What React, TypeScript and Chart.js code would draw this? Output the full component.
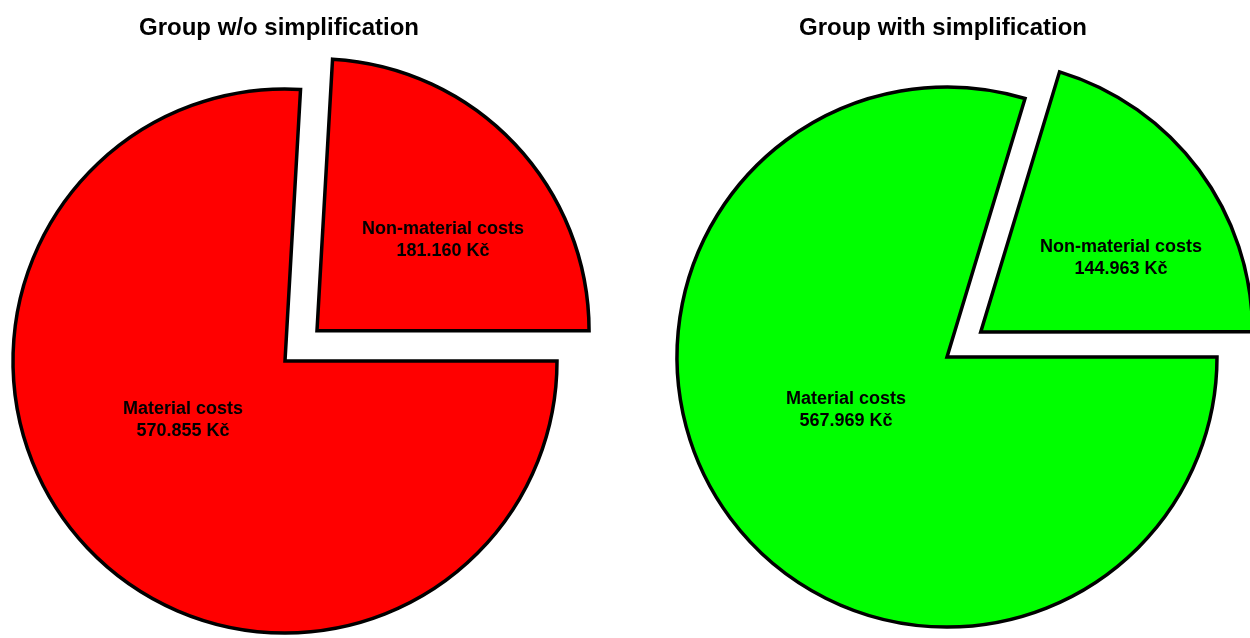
import React, { useEffect, useRef } from "react";
import { Chart, registerables } from "chart.js";

Chart.register(...registerables);

// ---- data ----
const categories = ["Material costs", "Non-material costs"];
const valuesWithout = [570855, 181160];
const valuesWith = [567969, 144963];
const titles = ["Group w/o simplification", "Group with simplification"];
const colorsWithout = ["#FF0000", "#FF0000"];
const colorsWith = ["#00FF00", "#00FF00"];

const fmt = (v: number) =>
  v.toString().replace(/\B(?=(\d{3})+(?!\d))/g, ".") + " Kč";

type PieProps = {
  values: number[];
  colors: string[];
  title: string;
  padding: { left: number; right: number; top: number; bottom: number };
  radius: number;
  explode: number;
  titleDx: number;
  labelOffsets: [number, number][];
};

function PieChart(props: PieProps) {
  const ref = useRef<HTMLCanvasElement | null>(null);
  useEffect(() => {
    if (!ref.current) return;
    const labelPlugin = {
      id: "sliceLabels",
      afterDatasetsDraw(chart: any) {
        const ctx = chart.ctx;
        const meta = chart.getDatasetMeta(0);
        ctx.save();
        ctx.fillStyle = "#000";
        ctx.textAlign = "center";
        ctx.textBaseline = "middle";
        ctx.font = "bold 18px 'Liberation Sans', Arial, sans-serif";
        meta.data.forEach((arc: any, i: number) => {
          const [dx, dy] = props.labelOffsets[i];
          const cx = arc.x + dx;
          const cy = arc.y + dy;
          ctx.fillText(categories[i], cx, cy - 11);
          ctx.fillText(fmt(props.values[i]), cx, cy + 11);
        });
        // title
        const c = meta.data[0];
        ctx.font = "bold 24px 'Liberation Sans', Arial, sans-serif";
        ctx.textBaseline = "alphabetic";
        ctx.fillText(props.title, c.x + props.titleDx, 35);
        ctx.restore();
      },
    };
    const chart = new Chart(ref.current, {
      type: "pie",
      data: {
        labels: categories,
        datasets: [
          {
            data: props.values,
            backgroundColor: props.colors,
            borderColor: "#000000",
            borderWidth: 3.5,
            borderJoinStyle: "miter",
            offset: [0, props.explode],
            hoverOffset: 0,
            clip: false,
          } as any,
        ],
      },
      options: {
        responsive: false,
        animation: false,
        rotation: 90,
        radius: props.radius,
        layout: { padding: props.padding },
        events: [],
        plugins: {
          legend: { display: false },
          tooltip: { enabled: false },
          title: { display: false },
        },
      } as any,
      plugins: [labelPlugin],
    });
    return () => chart.destroy();
  }, []);
  return <canvas ref={ref} width={625} height={638} style={{ display: "block" }} />;
}

export default function App() {
  return (
    <div
      style={{
        position: "fixed",
        left: 0,
        top: 0,
        width: 1250,
        height: 638,
        background: "#fff",
        display: "flex",
        overflow: "hidden",
      }}
    >
      <PieChart
        values={valuesWithout}
        colors={colorsWithout}
        title={titles[0]}
        padding={{ left: 0, right: 55, top: 84, bottom: 0 }}
        radius={272}
        explode={176}
        titleDx={-6}
        labelOffsets={[
          [-102, 59],
          [158, -121],
        ]}
      />
      <PieChart
        values={valuesWith}
        colors={colorsWith}
        title={titles[1]}
        padding={{ left: 19, right: 0, top: 76, bottom: 0 }}
        radius={270}
        explode={168}
        titleDx={-4}
        labelOffsets={[
          [-101, 53],
          [174, -99],
        ]}
      />
    </div>
  );
}
